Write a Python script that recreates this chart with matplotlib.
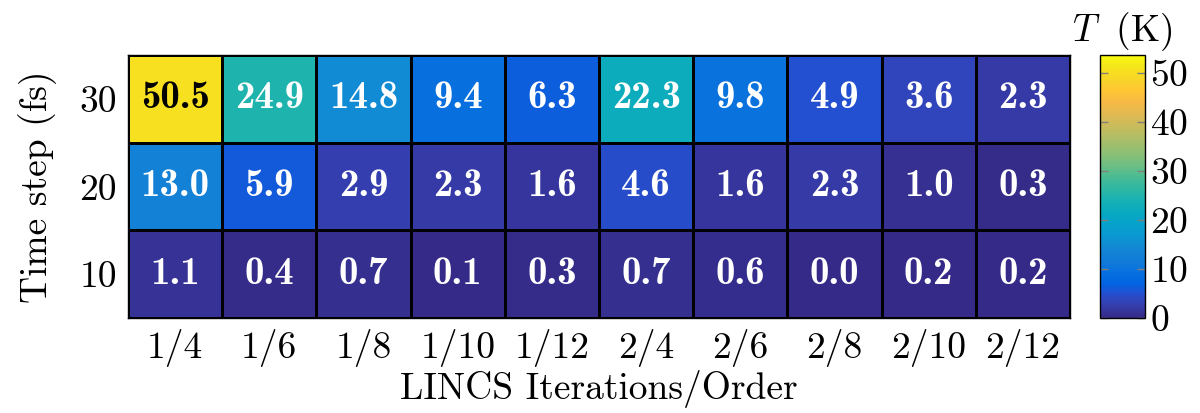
import numpy as np
import matplotlib.pyplot as plt
from matplotlib.colors import LinearSegmentedColormap

plt.rcParams["font.family"] = "cmr10"
plt.rcParams["mathtext.fontset"] = "cm"
plt.rcParams["axes.formatter.use_mathtext"] = True

lincs = ["1/4", "1/6", "1/8", "1/10", "1/12", "2/4", "2/6", "2/8", "2/10", "2/12"]
time_steps = [10, 20, 30]

temp_10 = [1.1, 0.4, 0.7, 0.1, 0.3, 0.7, 0.6, 0.0, 0.2, 0.2]
temp_20 = [13.0, 5.9, 2.9, 2.3, 1.6, 4.6, 1.6, 2.3, 1.0, 0.3]
temp_30 = [50.5, 24.9, 14.8, 9.4, 6.3, 22.3, 9.8, 4.9, 3.6, 2.3]

# parula, sampled from the 64-entry table (index, r, g, b)
parula_tab = [
    (1, 0.2081, 0.1663, 0.5292), (3, 0.2123, 0.2138, 0.6270),
    (5, 0.1959, 0.2645, 0.7279), (7, 0.1253, 0.3242, 0.8303),
    (9, 0.0117, 0.3875, 0.8820), (11, 0.0165, 0.4266, 0.8786),
    (14, 0.0629, 0.4737, 0.8554), (17, 0.0793, 0.5200, 0.8312),
    (20, 0.0488, 0.5772, 0.8228), (23, 0.0239, 0.6287, 0.8038),
    (26, 0.0267, 0.6642, 0.7607), (29, 0.0843, 0.6928, 0.7062),
    (32, 0.1801, 0.7177, 0.6424), (35, 0.3022, 0.7376, 0.5712),
    (38, 0.4420, 0.7481, 0.5033), (41, 0.5709, 0.7485, 0.4494),
    (44, 0.6834, 0.7435, 0.4044), (47, 0.7858, 0.7356, 0.3633),
    (50, 0.8824, 0.7274, 0.3217), (53, 0.9739, 0.7314, 0.2666),
    (56, 0.9955, 0.7861, 0.1967), (59, 0.9697, 0.8481, 0.1475),
    (62, 0.9598, 0.9218, 0.0948), (64, 0.9763, 0.9831, 0.0538),
]
parula = LinearSegmentedColormap.from_list(
    "parula", [((k - 1) / 63, (r, g, b)) for k, r, g, b in parula_tab])

Z = np.array([temp_10, temp_20, temp_30])
vmax = 53.7

fig = plt.figure(figsize=(12, 4.13), dpi=100)
ax = fig.add_axes([0.1067, 0.23, 0.785, 0.6368])
cax = fig.add_axes([0.9167, 0.23, 0.0375, 0.6368])

mesh = ax.pcolormesh(np.arange(len(lincs) + 1), np.arange(len(time_steps) + 1), Z,
                     cmap=parula, vmin=0, vmax=vmax,
                     edgecolors="black", linewidth=1.0)

for i in range(Z.shape[0]):
    for j in range(Z.shape[1]):
        v = Z[i, j]
        col = "black" if v > 40 else "white"
        ax.text(j + 0.5, i + 0.5, f"{v:.1f}", ha="center", va="center",
                color=col, fontsize=28, family="cmb10")

fs = 27
ax.set_xticks(np.arange(len(lincs)) + 0.5)
ax.set_xticklabels(lincs)
ax.set_yticks(np.arange(len(time_steps)) + 0.5)
ax.set_yticklabels([str(t) for t in time_steps])
ax.tick_params(length=0, labelsize=fs, pad=8)
ax.set_xlabel("LINCS Iterations/Order", fontsize=fs, labelpad=2)
ax.set_ylabel("Time step (fs)", fontsize=fs, labelpad=16)
for s in ax.spines.values():
    s.set_linewidth(1.0)

cb = fig.colorbar(mesh, cax=cax)
cb.set_ticks([0, 10, 20, 30, 40, 50])
cb.ax.tick_params(labelsize=fs, direction="in", length=6, color="gray",
                  left=True, right=True, width=1)
cb.outline.set_linewidth(1.0)
cax.set_title(r"$T\;$ (K)", fontsize=fs, pad=10)

fig.savefig("out.png", dpi=100)
